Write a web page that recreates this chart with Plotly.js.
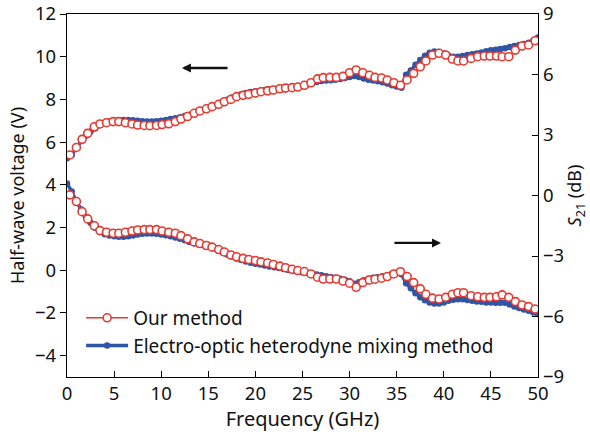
<!DOCTYPE html>
<html>
<head>
<meta charset="utf-8">
<script src="https://cdn.plot.ly/plotly-3.0.1.min.js"></script>
<style>html,body{margin:0;padding:0;background:#fff}#chart{width:590px;height:436px}</style>
</head>
<body>
<div id="chart"></div>
<script>
// Frequencies (GHz) of "Our method" markers
const ourFreq = [0.3,1.0,1.6,2.2,2.9,3.5,4.2,4.9,5.5,6.2,6.9,7.5,8.2,8.8,9.5,10.1,10.8,11.5,12.1,12.8,
  13.5,14.1,14.8,15.4,16.1,16.7,17.4,18.0,18.7,19.3,20.0,20.6,21.3,21.9,22.6,23.2,23.9,24.5,25.2,25.9,
  26.6,27.2,27.9,28.6,29.3,30.0,30.7,31.4,32.1,32.7,33.4,34.0,34.7,35.4,36.1,36.8,37.5,38.1,38.8,39.5,
  40.2,40.9,41.5,42.1,42.9,43.6,44.3,44.9,45.6,46.2,46.9,47.6,48.3,49.0,49.7];
// Half-wave voltage (V), our method
const ourVpi = [5.4,5.75,6.13,6.41,6.72,6.85,6.91,6.96,6.96,6.91,6.85,6.8,6.78,6.77,6.78,6.82,6.86,6.96,7.08,7.2,
  7.35,7.46,7.56,7.66,7.77,7.89,8.0,8.13,8.19,8.24,8.3,8.36,8.4,8.44,8.5,8.53,8.55,8.58,8.66,8.78,
  8.96,9.02,9.03,9.03,9.08,9.25,9.38,9.25,9.13,9.03,9.0,8.91,8.78,8.66,8.91,9.22,9.53,9.8,10.08,10.16,
  10.08,9.89,9.8,9.8,9.92,10.0,10.03,10.03,10.03,10.0,10.0,10.31,10.5,10.55,10.75];
// S21 (dB), our method
const ourS21 = [0.03,-0.3,-0.8,-1.16,-1.5,-1.74,-1.82,-1.87,-1.87,-1.82,-1.76,-1.71,-1.69,-1.69,-1.69,-1.76,-1.82,-1.87,-1.99,-2.15,
  -2.3,-2.38,-2.48,-2.56,-2.68,-2.8,-2.95,-3.04,-3.12,-3.17,-3.22,-3.29,-3.35,-3.42,-3.5,-3.58,-3.66,-3.72,-3.77,-3.89,
  -4.05,-4.14,-4.14,-4.14,-4.24,-4.35,-4.55,-4.32,-4.19,-4.15,-4.1,-4.02,-3.89,-3.78,-4.02,-4.32,-4.63,-4.9,-5.09,-5.13,
  -5.05,-4.9,-4.82,-4.82,-4.97,-5.02,-5.05,-5.05,-5.02,-4.93,-5.05,-5.26,-5.43,-5.51,-5.63];

// Frequencies (GHz) of electro-optic heterodyne mixing method points
const eoFreq = [0,0.5,1,1.5,2,2.5,3,3.5,4,4.5,5,5.5,6,6.5,7,7.5,8,8.5,9,9.5,
  10,10.5,11,11.5,12,12.5,13,13.5,14,14.5,15,15.5,16,16.5,17,17.5,18,18.5,19,19.5,
  20,20.5,21,21.5,22,22.5,23,23.5,24,24.5,25,25.5,26,26.5,27,27.5,28,28.5,29,29.5,
  30,30.5,31,31.5,32,32.5,33,33.5,34,34.5,35,35.5,36,36.5,37,37.5,38,38.5,39,39.5,
  40,40.5,41,41.5,42,42.5,43,43.5,44,44.5,45,45.5,46,46.5,47,47.5,48,48.5,49,49.5,50];
// Half-wave voltage (V), EO heterodyne method
const eoVpi = [5.25,5.4,5.75,6.05,6.3,6.5,6.65,6.8,6.9,6.97,7.0,7.02,7.03,7.03,7.02,7.0,6.98,6.97,6.97,6.98,
  7.0,7.04,7.08,7.12,7.17,7.22,7.28,7.35,7.42,7.5,7.58,7.67,7.77,7.88,7.98,8.08,8.17,8.24,8.3,8.35,
  8.38,8.41,8.44,8.46,8.49,8.52,8.53,8.56,8.58,8.6,8.64,8.7,8.76,8.82,8.86,8.88,8.9,8.92,8.96,9.0,
  9.05,9.1,9.05,8.98,8.92,8.88,8.85,8.8,8.74,8.66,8.6,8.55,9.15,9.35,9.62,9.85,10.05,10.18,10.24,10.22,
  10.15,10.05,10.0,10.0,10.03,10.08,10.12,10.15,10.2,10.25,10.3,10.33,10.36,10.4,10.45,10.5,10.55,10.6,10.65,10.75,10.9];
// S21 (dB), EO heterodyne method
const eoS21 = [0.6,0.2,-0.3,-0.7,-1.05,-1.35,-1.6,-1.8,-1.92,-1.98,-2.02,-2.05,-2.05,-2.02,-1.98,-1.93,-1.9,-1.88,-1.88,-1.9,
  -1.93,-1.97,-2.02,-2.08,-2.15,-2.22,-2.3,-2.37,-2.42,-2.47,-2.53,-2.62,-2.72,-2.82,-2.93,-3.03,-3.12,-3.2,-3.27,-3.33,
  -3.38,-3.42,-3.47,-3.52,-3.56,-3.6,-3.65,-3.7,-3.74,-3.77,-3.8,-3.84,-3.88,-3.92,-3.96,-4.0,-4.04,-4.08,-4.13,-4.18,
  -4.25,-4.38,-4.3,-4.2,-4.13,-4.08,-4.05,-4.0,-3.95,-3.88,-3.85,-3.9,-4.35,-4.6,-4.85,-5.05,-5.2,-5.3,-5.35,-5.35,
  -5.3,-5.22,-5.17,-5.15,-5.15,-5.18,-5.22,-5.25,-5.27,-5.3,-5.3,-5.32,-5.32,-5.32,-5.4,-5.5,-5.58,-5.65,-5.72,-5.8,-5.88];

const seriesNames = ['Our method', 'Electro-optic heterodyne mixing method'];
const xTicks = [0,5,10,15,20,25,30,35,40,45,50];
const yLeftTicks = [-4,-2,0,2,4,6,8,10,12];
const yRightTicks = [-9,-6,-3,0,3,6,9];

const RED = '#e6392f';
const BLUE = '#2f55a6';
const FONT = 'Noto Sans, Open Sans, sans-serif';
const minus = v => v < 0 ? '\u2212' + Math.abs(v) : String(v);

const eoStyle = {mode:'lines+markers', line:{color:BLUE, width:3.5}, marker:{color:BLUE, size:6.5, symbol:'circle'}};
const ourStyle = {mode:'lines+markers', line:{color:RED, width:1.5},
  marker:{color:'#ffffff', size:8, symbol:'circle', line:{color:RED, width:1.6}}};

const traces = [
  Object.assign({x:eoFreq, y:eoVpi, yaxis:'y', name:seriesNames[1], showlegend:true, legendrank:2}, eoStyle),
  Object.assign({x:eoFreq, y:eoS21, yaxis:'y2', name:seriesNames[1], showlegend:false}, eoStyle),
  Object.assign({x:ourFreq, y:ourVpi, yaxis:'y', name:seriesNames[0], showlegend:true, legendrank:1}, ourStyle),
  Object.assign({x:ourFreq, y:ourS21, yaxis:'y2', name:seriesNames[0], showlegend:false}, ourStyle)
];

const layout = {
  width:590, height:436,
  margin:{l:67, r:52, t:14, b:59},
  paper_bgcolor:'#fff', plot_bgcolor:'#fff',
  font:{family:FONT, size:18, color:'#111'},
  showlegend:true,
  legend:{x:0.03, y:0.215, xanchor:'left', yanchor:'top', bgcolor:'rgba(0,0,0,0)',
    font:{family:FONT, size:19, color:'#111'}, tracegroupgap:0, itemwidth:42},
  xaxis:{range:[0,50], tickvals:xTicks, ticks:'inside', ticklen:6, tickcolor:'#000',
    tickfont:{size:18.5}, showline:true, linecolor:'#000', linewidth:1.2, mirror:true, showgrid:false, zeroline:false,
    title:{text:'Frequency (GHz)', font:{family:FONT, size:20}, standoff:2}},
  yaxis:{range:[-5,12], tickvals:yLeftTicks, ticktext:yLeftTicks.map(minus),
    ticks:'outside', ticklen:6, tickcolor:'#000', tickfont:{size:18.5},
    showline:true, linecolor:'#000', linewidth:1.2, showgrid:false, zeroline:false,
    title:{text:'Half-wave voltage (V)', font:{family:FONT, size:18}, standoff:5}},
  yaxis2:{range:[-9,9], overlaying:'y', side:'right', tickvals:yRightTicks,
    ticktext:yRightTicks.map(minus), tickfont:{size:18.5},
    ticks:'inside', ticklen:6, tickcolor:'#000',
    showline:true, linecolor:'#000', linewidth:1.2, showgrid:false, zeroline:false,
    title:{text:'<i>S</i><sub>21</sub> (dB)', font:{family:FONT, size:18}, standoff:5}},
  annotations:[
    {x:12.2, y:9.47, xref:'x', yref:'y', ax:17.2, ay:9.47, axref:'x', ayref:'y',
     showarrow:true, arrowhead:2, arrowsize:0.75, arrowwidth:2.4, arrowcolor:'#111', text:''},
    {x:39.7, y:-2.35, xref:'x', yref:'y2', ax:34.6, ay:-2.35, axref:'x', ayref:'y2',
     showarrow:true, arrowhead:2, arrowsize:0.75, arrowwidth:2.4, arrowcolor:'#111', text:''}
  ]
};

Plotly.newPlot('chart', traces, layout, {displayModeBar:false, staticPlot:true});
</script>
</body>
</html>
